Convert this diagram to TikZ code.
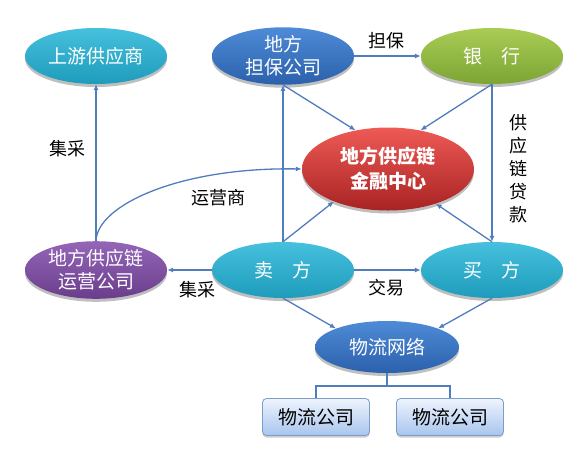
\documentclass[tikz,border=0pt]{standalone}
\usepackage{fontspec}
\setmainfont{Noto Sans CJK SC}
\usetikzlibrary{arrows.meta,shapes.geometric,shadows}
\definecolor{cyanT}{HTML}{45C0DD}
\definecolor{cyanB}{HTML}{1F9CBC}
\definecolor{blueT}{HTML}{4E8BD6}
\definecolor{blueB}{HTML}{2B60AC}
\definecolor{greenT}{HTML}{A9CC55}
\definecolor{greenB}{HTML}{7CA534}
\definecolor{redT}{HTML}{EE5A55}
\definecolor{redB}{HTML}{A82323}
\definecolor{purpT}{HTML}{9566B8}
\definecolor{purpB}{HTML}{6A3D8C}
\definecolor{lineC}{HTML}{4F7DBE}
\definecolor{boxT}{HTML}{EEF4FD}
\definecolor{boxB}{HTML}{A8C5EE}
\definecolor{boxD}{HTML}{7C9CCB}
\begin{document}
\begin{tikzpicture}[x=1pt,y=-1pt,
  ell/.style={ellipse, minimum width=142pt, minimum height=56pt, inner sep=0pt,
    text=white, align=center, font=\fontsize{19}{23}\selectfont,
    drop shadow={shadow xshift=0pt, shadow yshift=-3pt, opacity=0.25, fill=black}},
  cyanell/.style={ell, top color=cyanT, bottom color=cyanB},
  blueell/.style={ell, top color=blueT, bottom color=blueB},
  greenell/.style={ell, top color=greenT, bottom color=greenB},
  purpell/.style={ell, top color=purpT, bottom color=purpB},
  redell/.style={ell, minimum width=172pt, minimum height=83pt, top color=redT, bottom color=redB,
    font=\bfseries\fontsize{19}{25}\selectfont},
  lbox/.style={rectangle, rounded corners=4pt, minimum width=107pt, minimum height=37pt,
    draw=boxD, line width=0.8pt, top color=boxT, bottom color=boxB,
    font=\fontsize{19}{23}\selectfont,
    drop shadow={shadow xshift=0pt, shadow yshift=-2pt, opacity=0.2, fill=black}},
  lbl/.style={font=\fontsize{18}{23}\selectfont, text=black, inner sep=0pt},
  conn/.style={draw=lineC, line width=1.3pt},
  arr/.style={conn, -{Latex[length=6pt,width=5pt]}}
]
\useasboundingbox (0,0) rectangle (583,456);

\node[cyanell] (up) at (96,56) {上游供应商};
\node[blueell] (guar) at (283,56) {地方\\担保公司};
\node[greenell] (bank) at (492,56) {银\hspace{1em}行};
\node[redell] (fin) at (388,169) {地方供应链\\金融中心};
\node[purpell] (ops) at (96,270) {地方供应链\\运营公司};
\node[cyanell] (sell) at (283,270) {卖\hspace{1em}方};
\node[cyanell] (buy) at (492,270) {买\hspace{1em}方};
\node[blueell, minimum width=144pt, minimum height=52pt] (log) at (387,347) {物流网络};
\node[lbox] (lc1) at (316,417) {物流公司};
\node[lbox] (lc2) at (450,417) {物流公司};

\draw[arr] (guar.east) -- (bank.west);
\draw[arr] (ops.north) -- (up.south);
\draw[arr] (ops.north) .. controls (97,205) and (180,167) .. (fin.west);
\draw[arr] (sell.north) -- (guar.south);
\draw[arr] (bank.south) -- (buy.north);
\draw[arr] (guar.south) -- (fin.130);
\draw[arr] (bank.south) -- (fin.50);
\draw[arr] (sell.north) -- (fin.211);
\draw[arr] (buy.north) -- (fin.-36);
\draw[arr] (sell.west) -- (ops.east);
\draw[arr] (sell.east) -- (buy.west);
\draw[arr] (sell.south) -- (log.160);
\draw[arr] (buy.south) -- (log.20);
\coordinate (split) at (387,386);
\draw[conn] (log.south) -- (split) -| (lc1.north);
\draw[conn] (split) -| (lc2.north);

\node[lbl] (l1) at (386,41) {担保};
\node[lbl] (l2) at (67,149) {集采};
\node[lbl] (l3) at (218,198) {运营商};
\node[lbl] (l4) at (197,290) {集采};
\node[lbl] (l5) at (386,288) {交易};
\node[lbl, align=center] (l6) at (518,169) {供\\应\\链\\贷\\款};
\end{tikzpicture}
\end{document}
